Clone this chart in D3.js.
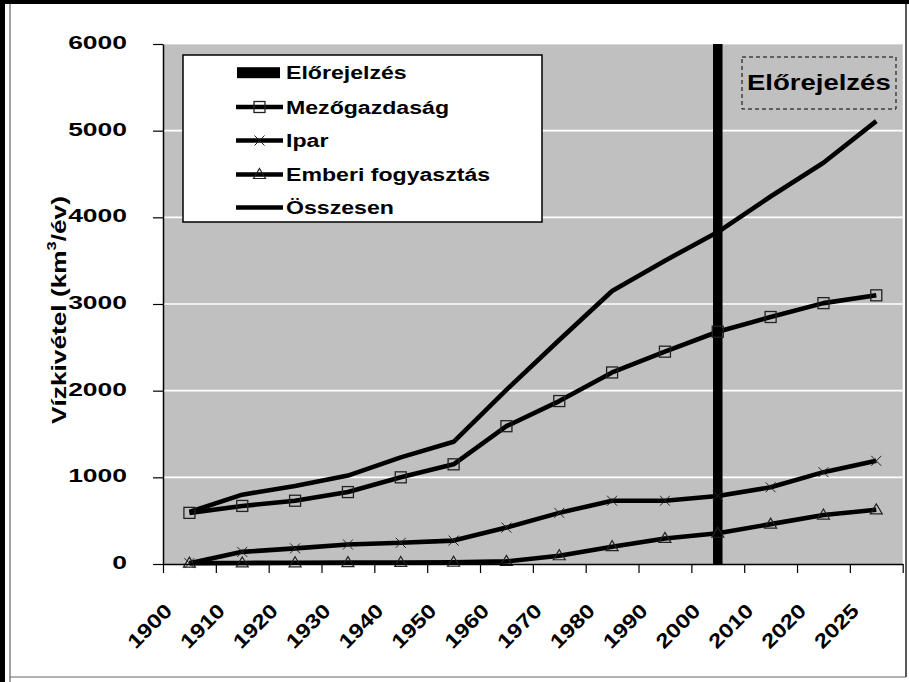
<!DOCTYPE html>
<html>
<head>
<meta charset="utf-8">
<script src="https://cdn.jsdelivr.net/npm/d3@7/dist/d3.min.js"></script>
<style>
  html, body { margin: 0; padding: 0; background: #fff; }
  svg { display: block; }
  text { font-family: "Liberation Sans", Arial, sans-serif; font-weight: bold; fill: #000; }
</style>
</head>
<body>
<svg id="chart" width="909" height="682"></svg>
<script>
// Világ vízkivétele ágazatonként (km³/év)
const categories = ["1900","1910","1920","1930","1940","1950","1960","1970","1980","1990","2000","2010","2020","2025"];
const mezogazdasag = [590, 670, 730, 830, 1000, 1150, 1590, 1880, 2210, 2450, 2680, 2850, 3010, 3100];
const ipar         = [10, 140, 180, 225, 245, 270, 420, 590, 730, 730, 785, 885, 1060, 1190];
const emberi       = [10, 12, 14, 16, 18, 20, 30, 95, 200, 295, 355, 460, 565, 625];
const osszesen     = [600, 800, 900, 1020, 1230, 1410, 2010, 2585, 3150, 3500, 3830, 4240, 4630, 5110];
// Előrejelzés: a jelenlegi évet jelölő oszlop
const elorejelzes  = [null, null, null, null, null, null, null, null, null, null, 6000, null, null, null];
const yTicks = [0, 1000, 2000, 3000, 4000, 5000, 6000];
const seriesNames = ["Előrejelzés", "Mezőgazdaság", "Ipar", "Emberi fogyasztás", "Összesen"];

const svg = d3.select("#chart");
const W = 909, H = 682;
const plot = { left: 163, right: 902.7, top: 44, bottom: 564 };

// Widen glyphs horizontally by factor k
function widen(sel, k) {
  sel.each(function () {
    const L = this.getComputedTextLength();
    d3.select(this).attr("textLength", L * k).attr("lengthAdjust", "spacingAndGlyphs");
  });
}

// Frame around the whole figure
svg.append("rect").attr("x", 0).attr("y", 0).attr("width", W).attr("height", H).attr("fill", "#fff");
svg.append("line").attr("x1", 0).attr("x2", W).attr("y1", 2).attr("y2", 2).attr("stroke", "#000").attr("stroke-width", 4);
svg.append("line").attr("x1", 2.5).attr("x2", 2.5).attr("y1", 0).attr("y2", H).attr("stroke", "#000").attr("stroke-width", 5);
svg.append("line").attr("x1", 10).attr("x2", 10).attr("y1", 4).attr("y2", H).attr("stroke", "#444").attr("stroke-width", 1);
svg.append("line").attr("x1", 906).attr("x2", 906).attr("y1", 4).attr("y2", 677).attr("stroke", "#222").attr("stroke-width", 1.5);
svg.append("line").attr("x1", 10).attr("x2", 906).attr("y1", 677).attr("y2", 677).attr("stroke", "#666").attr("stroke-width", 1);

const x = d3.scaleBand().domain(categories).range([plot.left, plot.right]).paddingInner(0).paddingOuter(0);
const cx = d => x(d) + x.bandwidth() / 2;
const y = d3.scaleLinear().domain([0, 6000]).range([plot.bottom, plot.top]);

// Plot area
svg.append("rect")
  .attr("x", plot.left).attr("y", plot.top)
  .attr("width", plot.right - plot.left).attr("height", plot.bottom - plot.top)
  .attr("fill", "#c0c0c0");
svg.append("line").attr("x1", plot.left).attr("x2", plot.right).attr("y1", plot.top + 0.5).attr("y2", plot.top + 0.5)
  .attr("stroke", "#d8d8d8").attr("stroke-width", 1);

// Gridlines
svg.append("g").selectAll("line").data(yTicks.filter(v => v > 0 && v < 6000)).join("line")
  .attr("x1", plot.left).attr("x2", plot.right)
  .attr("y1", d => y(d)).attr("y2", d => y(d))
  .attr("stroke", "#fff").attr("stroke-width", 1.6);

// Forecast bar
const BAR_FRAC = 0.18;
svg.append("g").selectAll("rect")
  .data(categories.map((c, i) => ({ c, v: elorejelzes[i] })).filter(d => d.v != null))
  .join("rect")
  .attr("x", d => cx(d.c) - x.bandwidth() * BAR_FRAC / 2)
  .attr("width", x.bandwidth() * BAR_FRAC)
  .attr("y", d => y(d.v))
  .attr("height", d => y(0) - y(d.v))
  .attr("fill", "#000");

// Lines
const line = d3.line().x((d, i) => cx(categories[i])).y(d => y(d));
const lineSeries = [mezogazdasag, ipar, emberi, osszesen];
svg.append("g").selectAll("path").data(lineSeries).join("path")
  .attr("d", d => line(d))
  .attr("fill", "none").attr("stroke", "#000").attr("stroke-width", 4.6)
  .attr("stroke-linejoin", "round");

// Marker shapes
function square(g, px, py) {
  g.append("rect").attr("x", px - 5.5).attr("y", py - 5.5).attr("width", 11).attr("height", 11)
    .attr("fill", "none").attr("stroke", "#222").attr("stroke-width", 1.3);
}
function cross(g, px, py) {
  g.append("path").attr("d", `M${px - 5},${py - 5}L${px + 5},${py + 5}M${px - 5},${py + 5}L${px + 5},${py - 5}`)
    .attr("fill", "none").attr("stroke", "#222").attr("stroke-width", 1);
}
function triangle(g, px, py) {
  g.append("path").attr("d", `M${px},${py - 6}L${px + 6},${py + 4}L${px - 6},${py + 4}Z`)
    .attr("fill", "none").attr("stroke", "#222").attr("stroke-width", 1.2);
}
const mk = svg.append("g");
mezogazdasag.forEach((v, i) => square(mk, cx(categories[i]), y(v)));
ipar.forEach((v, i) => cross(mk, cx(categories[i]), y(v)));
emberi.forEach((v, i) => triangle(mk, cx(categories[i]), y(v)));

// Y axis
const yAxis = svg.append("g").attr("transform", `translate(${plot.left},0)`)
  .call(d3.axisLeft(y).tickValues(yTicks).tickSize(10).tickSizeOuter(0).tickPadding(26).tickFormat(d3.format("d")));
yAxis.select(".domain").attr("stroke", "#000").attr("stroke-width", 1.5);
yAxis.selectAll(".tick line").attr("stroke", "#000").attr("stroke-width", 1.2);
yAxis.selectAll(".tick text")
  .attr("font-size", 18.5).attr("font-family", null).attr("dy", null).attr("y", 4.5)
  .style("font-family", '"Liberation Sans", Arial, sans-serif').style("font-weight", "bold")
  .call(widen, 1.43);

// X axis: ticks on category boundaries
const xb = d3.scaleLinear().domain([0, categories.length]).range([plot.left, plot.right]);
const xAxis = svg.append("g").attr("transform", `translate(0,${plot.bottom})`)
  .call(d3.axisBottom(xb).tickValues(d3.range(categories.length + 1)).tickSize(9).tickSizeOuter(0).tickFormat(""));
xAxis.select(".domain").attr("stroke", "#000").attr("stroke-width", 1.5);
xAxis.selectAll(".tick line").attr("stroke", "#000").attr("stroke-width", 1.2);

// Rotated category labels (widened along the baseline)
svg.append("g").selectAll("text").data(categories).join("text")
  .attr("transform", d => `translate(${cx(d) - 16},612) rotate(-45) scale(1.2,1)`)
  .attr("text-anchor", "end")
  .attr("font-size", 20)
  .text(d => d);

// Y axis title
const yt = svg.append("text")
  .attr("transform", `translate(66,${(plot.top + plot.bottom) / 2 + 6}) scale(1.2,1) rotate(-90)`)
  .attr("text-anchor", "middle")
  .attr("font-size", 17.5);
yt.append("tspan").text("Vízkivétel (km");
yt.append("tspan").attr("font-size", 11).attr("dy", -8).text("3");
yt.append("tspan").attr("dy", 8).text("/év)");
yt.call(widen, 1.5);

// Legend
const lg = svg.append("g");
lg.append("rect").attr("x", 183).attr("y", 55).attr("width", 359).attr("height", 167)
  .attr("fill", "#fff").attr("stroke", "#000").attr("stroke-width", 1.5);
const rowY = [72.7, 107, 140.5, 174.5, 207.5];
seriesNames.forEach((name, i) => {
  const ry = rowY[i];
  if (i === 0) {
    lg.append("rect").attr("x", 237).attr("y", ry - 5.5).attr("width", 43).attr("height", 11).attr("fill", "#000");
  } else {
    lg.append("line").attr("x1", 236).attr("x2", 283).attr("y1", ry).attr("y2", ry)
      .attr("stroke", "#000").attr("stroke-width", 4.6);
    if (i === 1) square(lg, 259.5, ry);
    if (i === 2) cross(lg, 259.5, ry);
    if (i === 3) triangle(lg, 259.5, ry);
  }
  lg.append("text").attr("x", 286).attr("y", ry + 6.5).attr("font-size", 17.5).text(name).call(widen, 1.32);
});

// Forecast annotation box
svg.append("rect").attr("x", 742).attr("y", 57).attr("width", 154).attr("height", 52)
  .attr("fill", "none").attr("stroke", "#000").attr("stroke-width", 1).attr("stroke-dasharray", "4,3");
svg.append("text").attr("x", 747).attr("y", 89.5).attr("font-size", 22).text(seriesNames[0]).call(widen, 1.25);
</script>
</body>
</html>
